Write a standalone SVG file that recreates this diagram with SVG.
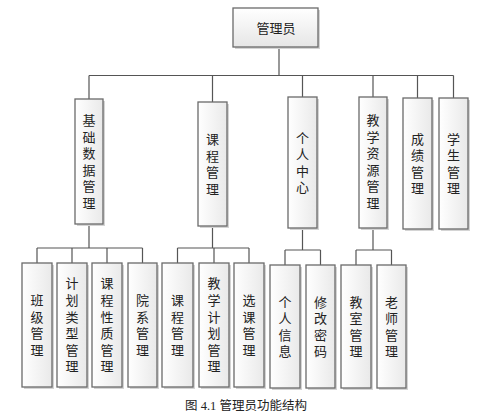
<svg xmlns="http://www.w3.org/2000/svg" width="499" height="420" viewBox="0 0 499 420">
<defs>
<linearGradient id="gh" x1="0" y1="0" x2="1" y2="0">
<stop offset="0" stop-color="#ffffff"/>
<stop offset="1" stop-color="#e9e9e9"/>
</linearGradient>
<linearGradient id="g" x1="0" y1="0" x2="0" y2="1">
<stop offset="0" stop-color="#ffffff"/>
<stop offset="1" stop-color="#e6e6e6"/>
</linearGradient>
</defs>
<style>
.b{fill:url(#g);stroke:#6a6a6a;stroke-width:1.3}
.v{fill:url(#gh);stroke:#6a6a6a;stroke-width:1.3}
.s{fill:#d4d4d4}
.t{font-family:"Noto Sans CJK SC","Noto Sans",sans-serif;font-size:13px;fill:#222;text-anchor:middle}
.vt{font-family:"Noto Sans CJK SC","Noto Sans",sans-serif;font-size:13px;fill:#222;text-anchor:middle;writing-mode:vertical-rl;text-orientation:upright;letter-spacing:3.6px}
.c{font-family:"Liberation Serif","Noto Sans CJK SC",serif;font-size:12.5px;fill:#222;text-anchor:middle}
#edges path{fill:none;stroke:#555;stroke-width:1.2}
</style>
<rect width="499" height="420" fill="#fff"/>
<g id="edges">
<path d="M279 47V75.5M89 75.5H453.5M89 75.5V99M212.5 75.5V102M302.5 75.5V97M373 75.5V97M417.5 75.5V98M453.5 75.5V98"/>
<path d="M89 224V248M37 248H142.5M37 248V263M72 248V263M107 248V263M142.5 248V263"/>
<path d="M212.5 226V248M177.5 248H249M177.5 248V263M214 248V263M249 248V263"/>
<path d="M302.5 228V250M285 250H320.5M285 250V265M320.5 250V265"/>
<path d="M373 228V250M356 250H391.5M356 250V265M391.5 250V265"/>
</g>
<g id="root"><rect class="s" x="235" y="10" width="85" height="39"/><rect class="b" x="233" y="8" width="85" height="39"/><text class="t" x="276" y="33">管理员</text></g>

<g id="n_jichu"><rect class="s" x="77" y="101" width="28" height="125"/><rect class="v" x="75" y="99" width="28" height="125"/><text class="vt" x="89" y="163.3">基础数据管理</text></g>
<g id="n_kecheng"><rect class="s" x="200" y="104" width="29" height="124"/><rect class="v" x="198" y="102" width="29" height="124"/><text class="vt" x="212.5" y="165.8">课程管理</text></g>
<g id="n_geren"><rect class="s" x="290" y="99" width="29" height="131"/><rect class="v" x="288" y="97" width="29" height="131"/><text class="vt" x="302.5" y="164.3">个人中心</text></g>
<g id="n_ziyuan"><rect class="s" x="361" y="99" width="28" height="131"/><rect class="v" x="359" y="97" width="28" height="131"/><text class="vt" x="373" y="163.3">教学资源管理</text></g>
<g id="n_chengji"><rect class="s" x="405" y="100" width="29" height="131"/><rect class="v" x="403" y="98" width="29" height="131"/><text class="vt" x="417.5" y="165.3">成绩管理</text></g>
<g id="n_xuesheng"><rect class="s" x="441" y="100" width="29" height="131"/><rect class="v" x="439" y="98" width="29" height="131"/><text class="vt" x="453.5" y="165.3">学生管理</text></g>

<g id="n_banji"><rect class="s" x="24" y="265" width="30" height="124"/><rect class="v" x="22" y="263" width="30" height="124"/><text class="vt" x="37" y="326.8">班级管理</text></g>
<g id="n_jihualeixing"><rect class="s" x="59" y="265" width="30" height="124"/><rect class="v" x="57" y="263" width="30" height="124"/><text class="vt" x="72" y="326.8">计划类型管理</text></g>
<g id="n_xingzhi"><rect class="s" x="94" y="265" width="30" height="124"/><rect class="v" x="92" y="263" width="30" height="124"/><text class="vt" x="107" y="326.8">课程性质管理</text></g>
<g id="n_yuanxi"><rect class="s" x="130" y="265" width="29" height="124"/><rect class="v" x="128" y="263" width="29" height="124"/><text class="vt" x="142.5" y="326.8">院系管理</text></g>
<g id="n_kcgl"><rect class="s" x="164" y="265" width="31" height="124"/><rect class="v" x="162" y="263" width="31" height="124"/><text class="vt" x="177.5" y="326.8">课程管理</text></g>
<g id="n_jiaoxuejihua"><rect class="s" x="201" y="265" width="30" height="124"/><rect class="v" x="199" y="263" width="30" height="124"/><text class="vt" x="214" y="326.8">教学计划管理</text></g>
<g id="n_xuanke"><rect class="s" x="236" y="265" width="30" height="124"/><rect class="v" x="234" y="263" width="30" height="124"/><text class="vt" x="249" y="326.8">选课管理</text></g>
<g id="n_gerenxinxi"><rect class="s" x="272" y="267" width="30" height="123"/><rect class="v" x="270" y="265" width="30" height="123"/><text class="vt" x="285" y="328.3">个人信息</text></g>
<g id="n_mima"><rect class="s" x="308" y="267" width="29" height="123"/><rect class="v" x="306" y="265" width="29" height="123"/><text class="vt" x="320.5" y="328.3">修改密码</text></g>
<g id="n_jiaoshi"><rect class="s" x="343" y="267" width="30" height="123"/><rect class="v" x="341" y="265" width="30" height="123"/><text class="vt" x="356" y="328.3">教室管理</text></g>
<g id="n_laoshi"><rect class="s" x="379" y="267" width="29" height="123"/><rect class="v" x="377" y="265" width="29" height="123"/><text class="vt" x="391.5" y="328.3">老师管理</text></g>

<text class="c" x="246" y="410">图 4.1  管理员功能结构</text>
</svg>
